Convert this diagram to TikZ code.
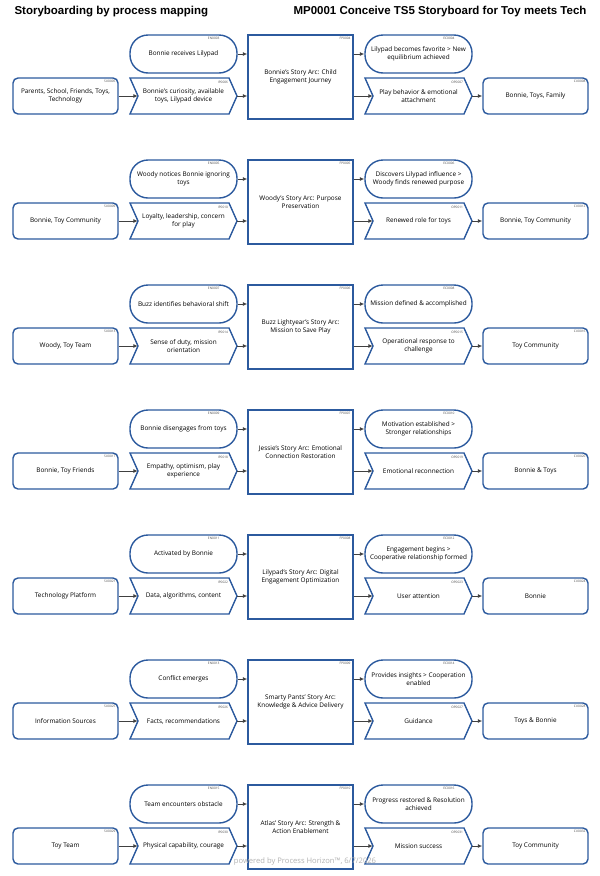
\documentclass[tikz,border=0pt]{standalone}
\usepackage{fontspec}
\setmainfont{Open Sans}
\newfontfamily\titulofont{Liberation Sans}
\usetikzlibrary{arrows.meta}

\definecolor{azulproc}{RGB}{44,90,158}
\definecolor{grisflecha}{RGB}{64,64,64}

% Codigo de cuatro cifras (EN0003, SU0021, ...)
\newcommand{\codigo}[2]{#1\ifnum#2<10 000\else 00\fi#2}

\tikzset{
  texto/.style={align=center, font=\fontsize{6.4}{7.4}\selectfont, inner sep=1pt},
  bordeazul/.style={draw=azulproc, line width=1.4pt, fill=white},
  caja/.style={texto, bordeazul, rounded corners=5pt, minimum width=105pt, minimum height=36pt},
  ovalo/.style={texto, bordeazul, rounded corners=18pt, minimum width=107pt, minimum height=38pt},
  proceso/.style={texto, bordeazul, minimum width=105pt, minimum height=84pt},
  flechanodo/.style={texto, minimum width=107pt, minimum height=36pt},
  chevron/.style={bordeazul, line join=miter},
  etiqueta/.style={font=\fontsize{3.2}{3.2}\selectfont, text=black!70, inner sep=0pt},
  flecha/.style={draw=grisflecha, line width=0.9pt, -{Latex[length=4.5pt,width=4pt]}},
}

\begin{document}
\begin{tikzpicture}[x=1pt, y=-1pt]
        \useasboundingbox (0,0) rectangle (600,876);

        % Titulos
        \node[anchor=west, font=\titulofont\fontsize{11.5}{12}\selectfont\bfseries] (titulo) at (11,12) {Storyboarding by process mapping};
        \node[anchor=east, font=\titulofont\fontsize{11.5}{12}\selectfont\bfseries] (mapa) at (590,12) {MP0001 Conceive TS5 Storyboard for Toy meets Tech};

        % Filas: proveedor, evento, entrada, proceso, resultado, salida, cliente
        \foreach \r/\su/\en/\ip/\fp/\ec/\op/\cu in {
          0/{Parents, School, Friends, Toys,\\Technology}/{Bonnie receives Lilypad}/{Bonnie's curiosity, available\\toys, Lilypad device}/{Bonnie's Story Arc: Child\\Engagement Journey}/{Lilypad becomes favorite > New\\equilibrium achieved}/{Play behavior \& emotional\\attachment}/{Bonnie, Toys, Family},
          1/{Bonnie, Toy Community}/{Woody notices Bonnie ignoring\\toys}/{Loyalty, leadership, concern\\for play}/{Woody's Story Arc: Purpose\\Preservation}/{Discovers Lilypad influence >\\Woody finds renewed purpose}/{Renewed role for toys}/{Bonnie, Toy Community},
          2/{Woody, Toy Team}/{Buzz identifies behavioral shift}/{Sense of duty, mission\\orientation}/{Buzz Lightyear's Story Arc:\\Mission to Save Play}/{Mission defined \& accomplished}/{Operational response to\\challenge}/{Toy Community},
          3/{Bonnie, Toy Friends}/{Bonnie disengages from toys}/{Empathy, optimism, play\\experience}/{Jessie's Story Arc: Emotional\\Connection Restoration}/{Motivation established >\\Stronger relationships}/{Emotional reconnection}/{Bonnie \& Toys},
          4/{Technology Platform}/{Activated by Bonnie}/{Data, algorithms, content}/{Lilypad's Story Arc: Digital\\Engagement Optimization}/{Engagement begins >\\Cooperative relationship formed}/{User attention}/{Bonnie},
          5/{Information Sources}/{Conflict emerges}/{Facts, recommendations}/{Smarty Pants' Story Arc:\\Knowledge \& Advice Delivery}/{Provides insights > Cooperation\\enabled}/{Guidance}/{Toys \& Bonnie},
          6/{Toy Team}/{Team encounters obstacle}/{Physical capability, courage}/{Atlas' Story Arc: Strength \&\\Action Enablement}/{Progress restored \& Resolution\\achieved}/{Mission success}/{Toy Community}}
        {
          \pgfmathsetmacro{\y}{35+125*\r}
          \pgfmathtruncatemacro{\nen}{2*\r+3}
          \pgfmathtruncatemacro{\nec}{2*\r+4}
          \pgfmathtruncatemacro{\nfp}{\r+4}
          \pgfmathtruncatemacro{\nsu}{4*\r+5}
          \pgfmathtruncatemacro{\nip}{4*\r+6}
          \pgfmathtruncatemacro{\nop}{4*\r+7}
          \pgfmathtruncatemacro{\ncu}{4*\r+8}

          % Formas
          \node[caja] (su\r) at (65.5,\y+61) {\su};
          \node[ovalo] (en\r) at (183.5,\y+19) {\en};
          \draw[chevron] (130,\y+43) -- (229,\y+43) -- (237,\y+61) -- (229,\y+79) -- (130,\y+79) -- (138,\y+61) -- cycle;
          \node[flechanodo] (ip\r) at (183.5,\y+61) {\ip};
          \node[proceso] (fp\r) at (300.5,\y+42) {\fp};
          \node[ovalo] (ec\r) at (418.5,\y+19) {\ec};
          \draw[chevron] (365,\y+43) -- (464,\y+43) -- (472,\y+61) -- (464,\y+79) -- (365,\y+79) -- (373,\y+61) -- cycle;
          \node[flechanodo] (op\r) at (418.5,\y+61) {\op};
          \node[caja] (cu\r) at (535.5,\y+61) {\cu};

          % Codigos
          \node[etiqueta, anchor=north east] (idsu\r) at ([shift={(-3pt,-3pt)}]su\r.north east) {\codigo{SU}{\nsu}};
          \node[etiqueta, anchor=north east] (iden\r) at ([shift={(-18pt,-3pt)}]en\r.north east) {\codigo{EN}{\nen}};
          \node[etiqueta, anchor=north east] (idip\r) at ([shift={(-9pt,-3pt)}]ip\r.north east) {\codigo{IP}{\nip}};
          \node[etiqueta, anchor=north east] (idfp\r) at ([shift={(-3pt,-3pt)}]fp\r.north east) {\codigo{FP}{\nfp}};
          \node[etiqueta, anchor=north east] (idec\r) at ([shift={(-18pt,-3pt)}]ec\r.north east) {\codigo{EC}{\nec}};
          \node[etiqueta, anchor=north east] (idop\r) at ([shift={(-9pt,-3pt)}]op\r.north east) {\codigo{OP}{\nop}};
          \node[etiqueta, anchor=north east] (idcu\r) at ([shift={(-3pt,-3pt)}]cu\r.north east) {\codigo{CU}{\ncu}};

          % Flechas
          \draw[flecha] (su\r.east) -- ([xshift=8pt]ip\r.west);
          \draw[flecha] (en\r.east) -- (en\r.east -| fp\r.west);
          \draw[flecha] (ip\r.east) -- (ip\r.east -| fp\r.west);
          \draw[flecha] (fp\r.east |- ec\r.west) -- (ec\r.west);
          \draw[flecha] (fp\r.east |- op\r.west) -- ([xshift=8pt]op\r.west);
          \draw[flecha] (op\r.east) -- (cu\r.west);
        }

        % Pie
        \node[text=black!30, font=\fontsize{7.6}{8}\selectfont] (pie) at (305,862) {powered by Process Horizon™, 6/7/2026};
    \end{tikzpicture}
\end{document}
